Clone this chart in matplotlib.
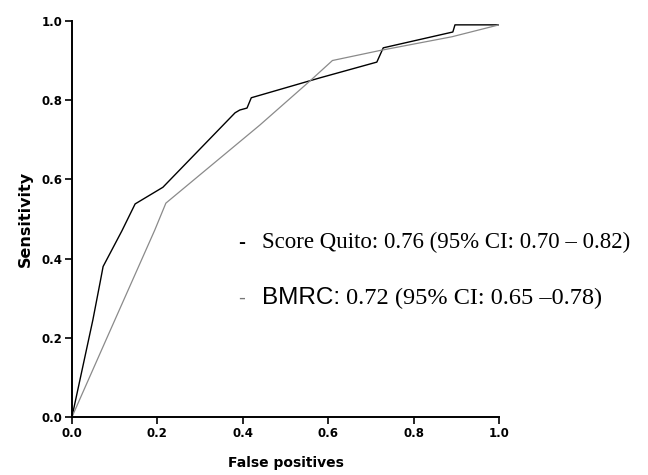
import matplotlib
matplotlib.use("Agg")
import matplotlib.pyplot as plt

# Data
quito_fp = [0.0, 0.049, 0.066, 0.073, 0.117, 0.148, 0.213, 0.382, 0.393, 0.41, 0.42, 0.58, 0.714, 0.729, 0.892, 0.897, 1.0]
quito_se = [0.0, 0.245, 0.34, 0.38, 0.47, 0.538, 0.58, 0.768, 0.775, 0.78, 0.806, 0.856, 0.896, 0.932, 0.972, 0.99, 0.99]
bmrc_fp = [0.0, 0.082, 0.194, 0.22, 0.44, 0.557, 0.61, 0.72, 0.89, 1.0]
bmrc_se = [0.0, 0.2, 0.472, 0.54, 0.737, 0.848, 0.90, 0.925, 0.96, 0.99]

xticks = [0.0, 0.2, 0.4, 0.6, 0.8, 1.0]
yticks = [0.0, 0.2, 0.4, 0.6, 0.8, 1.0]

legend_quito = "Score Quito: 0.76 (95% CI: 0.70 \u2013 0.82)"
legend_bmrc_a = "BMRC:"
legend_bmrc_b = " 0.72 (95% CI: 0.65 \u20130.78)"

fig = plt.figure(figsize=(6.48, 4.75), dpi=100)
ax = fig.add_axes([0.111, 0.122, 0.659, 0.834])

ax.plot(quito_fp, quito_se, color="black", lw=1.0)
ax.plot(bmrc_fp, bmrc_se, color="#8a8a8a", lw=0.9)

ax.set_xlim(0, 1.0)
ax.set_ylim(0, 1.0)
ax.set_xticks(xticks)
ax.set_yticks(yticks)
ax.set_xticklabels([f"{v:.1f}" for v in xticks], fontsize=8.5, fontweight="bold", family="DejaVu Sans")
ax.set_yticklabels([f"{v:.1f}" for v in yticks], fontsize=8.5, fontweight="bold", family="DejaVu Sans")
ax.tick_params(direction="out", length=5, width=1.2, pad=2)
for s in ["top", "right"]:
    ax.spines[s].set_visible(False)
for s in ["left", "bottom"]:
    ax.spines[s].set_linewidth(1.4)
ax.margins(0)

ax.set_xlabel("False positives", fontsize=10, fontweight="bold", family="DejaVu Sans", labelpad=12)
ax.set_ylabel("Sensitivity", fontsize=11.5, fontweight="bold", family="DejaVu Sans", labelpad=6)

# legend-like text
ax.text(0.389, 0.44, "-", fontsize=15, fontweight="bold", color="black", va="center", ha="left", family="Liberation Sans")
ax.text(0.445, 0.44, legend_quito, fontsize=16.5, family="Liberation Serif", va="center", ha="left")
ax.text(0.389, 0.30, "-", fontsize=15, color="#777777", va="center", ha="left", family="Liberation Sans")
t1 = ax.text(0.445, 0.30, legend_bmrc_a, fontsize=17.5, family="Liberation Sans", va="center", ha="left")
fig.canvas.draw()
bb = t1.get_window_extent(renderer=fig.canvas.get_renderer())
x_end = ax.transData.inverted().transform((bb.x1, bb.y0))[0]
ax.text(x_end, 0.30, legend_bmrc_b, fontsize=17.5, family="Liberation Serif", va="center", ha="left")

fig.savefig("out.png", dpi=100)
